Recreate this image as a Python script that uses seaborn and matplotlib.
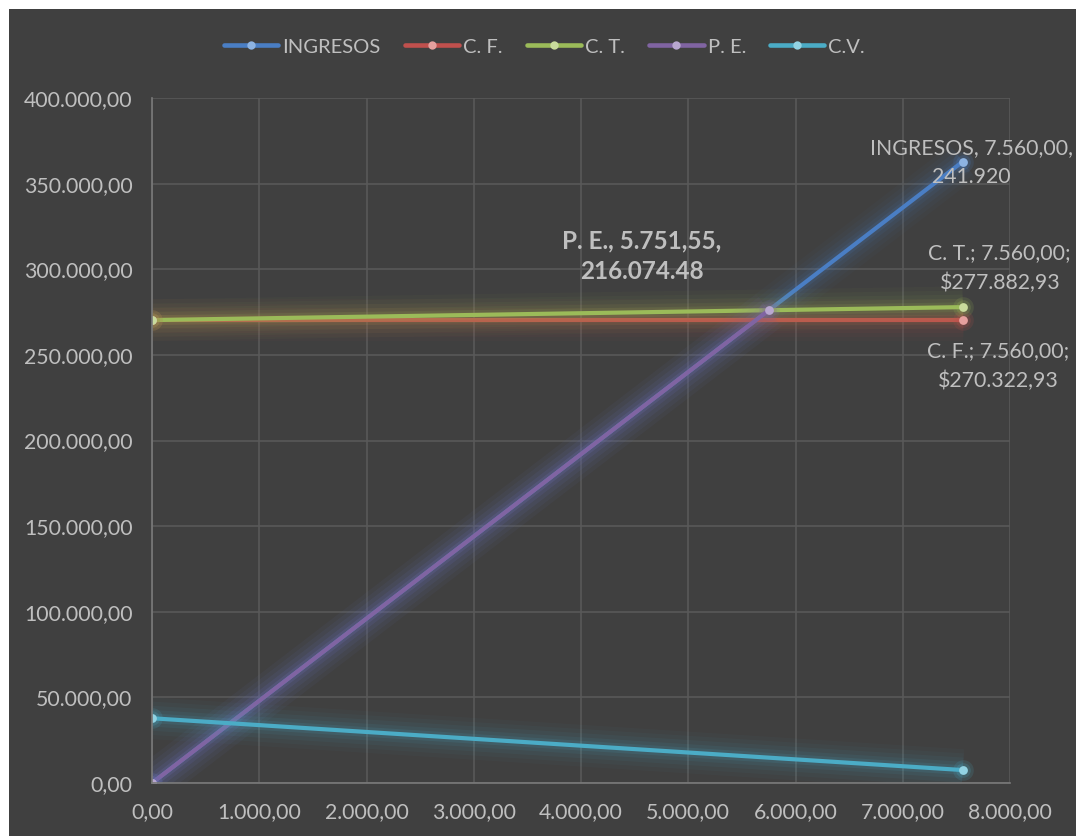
import matplotlib
matplotlib.use("Agg")
import matplotlib.pyplot as plt
import matplotlib.patheffects as pe
from matplotlib.lines import Line2D
from matplotlib.patches import Rectangle
from matplotlib.ticker import FuncFormatter, MultipleLocator
import seaborn as sns
import pandas as pd

# ---- data ----
series = ["INGRESOS", "C. F.", "C. T.", "P. E.", "C.V."]
x_ingresos = [0, 7560]
y_ingresos = [0, 362880]
x_cf = [0, 7560]
y_cf = [270322.93, 270322.93]
x_ct = [0, 7560]
y_ct = [270322.93, 277882.93]
x_pe = [0, 5751.55]
y_pe = [0, 276074.4]
x_cv = [0, 7560]
y_cv = [37800, 7560]

colors = ["#4A7EC4", "#C0504D", "#9BBB59", "#8064A2", "#4BACC6"]
marker_colors = ["#8DB3E2", "#E6A09E", "#C9DB9C", "#B9A7D0", "#92D3E3"]

labels = {
    "INGRESOS": "INGRESOS, 7.560,00,\n241.920",
    "C. T.": "C. T.; 7.560,00;\n$277.882,93",
    "C. F.": "C. F.; 7.560,00;\n$270.322,93",
    "P. E.": "P. E., 5.751,55,\n216.074.48",
}

xs = [x_ingresos, x_cf, x_ct, x_pe, x_cv]
ys = [y_ingresos, y_cf, y_ct, y_pe, y_cv]
rows = []
for s, xx, yy in zip(series, xs, ys):
    for a, b in zip(xx, yy):
        rows.append({"serie": s, "x": a, "y": b})
df = pd.DataFrame(rows)

BG = "#404040"
TXT = "#BFBFBF"
GRID = "#595959"
FS = 15.3

sns.set_theme(style="dark")
plt.rcParams["font.family"] = ["Lato", "DejaVu Sans"]

fig = plt.figure(figsize=(10.76, 8.36), dpi=100, facecolor="white")
fig.patches.append(Rectangle((9 / 1076, 0), 1, 1 - 9 / 836, transform=fig.transFigure,
                             facecolor=BG, linewidth=0, zorder=-10))
ax = fig.add_axes([152 / 1076, 53 / 836, 858 / 1076, 685 / 836])
ax.set_facecolor(BG)

sns.lineplot(data=df, x="x", y="y", hue="serie", hue_order=series, palette=colors,
             linewidth=3.0, legend=False, ax=ax, sort=False, estimator=None, units="serie")

for line, c, mc in zip(ax.get_lines(), colors, marker_colors):
    line.set_path_effects([
        pe.Stroke(linewidth=30, foreground=c, alpha=0.035),
        pe.Stroke(linewidth=24, foreground=c, alpha=0.045),
        pe.Stroke(linewidth=18, foreground=c, alpha=0.06),
        pe.Stroke(linewidth=12, foreground=c, alpha=0.08),
        pe.Stroke(linewidth=7, foreground=c, alpha=0.12),
        pe.Normal(),
    ])
    line.set_solid_capstyle("butt")
    xd, yd = line.get_xdata(), line.get_ydata()
    ax.scatter(xd, yd, s=220, color=c, alpha=0.15, linewidths=0, zorder=line.get_zorder() + 0.1)
    ax.scatter(xd, yd, s=110, color=c, alpha=0.2, linewidths=0, zorder=line.get_zorder() + 0.1)
    ax.scatter(xd, yd, s=40, color=mc, linewidths=0, zorder=line.get_zorder() + 0.2)

ax.set_xlim(0, 8000)
ax.set_ylim(0, 400000)
ax.xaxis.set_major_locator(MultipleLocator(1000))
ax.yaxis.set_major_locator(MultipleLocator(50000))


def fmt(v, _):
    s = f"{v:,.2f}"
    return s.replace(",", "X").replace(".", ",").replace("X", ".")


ax.xaxis.set_major_formatter(FuncFormatter(fmt))
ax.yaxis.set_major_formatter(FuncFormatter(fmt))
ax.tick_params(axis="both", length=0, colors=TXT, labelsize=FS)
ax.tick_params(axis="y", pad=14)
ax.tick_params(axis="x", pad=14)
ax.grid(True, color=GRID, linewidth=1.2)
ax.set_xlabel("")
ax.set_ylabel("")
for side in ["top", "right"]:
    ax.spines[side].set_visible(False)
for side in ["left", "bottom"]:
    ax.spines[side].set_color("#7A7A7A")
    ax.spines[side].set_linewidth(1.2)

# data labels
offsets = {
    "INGRESOS": (9, -1, "normal", 1.6),
    "C. T.": (37, 39, "normal", 1.6),
    "C. F.": (35, -46, "normal", 1.6),
    "P. E.": (-127, 54, "bold", 1.35),
}
ends = {s: (xx[-1], yy[-1]) for s, xx, yy in zip(series, xs, ys)}
for s, txt in labels.items():
    dx, dy, w, ls = offsets[s]
    ax.annotate(txt, xy=ends[s], xytext=(dx, dy), textcoords="offset pixels",
                ha="center", va="center", color=TXT, fontsize=17.5 if w == "bold" else FS,
                fontweight=w, linespacing=ls, zorder=10)

handles = [Line2D([0], [0], color=c, linewidth=3.3, marker="o", markersize=6,
                  markerfacecolor=mc, markeredgewidth=0)
           for c, mc in zip(colors, marker_colors)]
fig.legend(handles, series, loc="center", bbox_to_anchor=(0.506, 1 - 47 / 836), ncol=5,
           frameon=False, fontsize=14.5, labelcolor=TXT, handlelength=2.7,
           handletextpad=0.2, columnspacing=1.2)

fig.savefig("out.png", dpi=100, facecolor=fig.get_facecolor())
